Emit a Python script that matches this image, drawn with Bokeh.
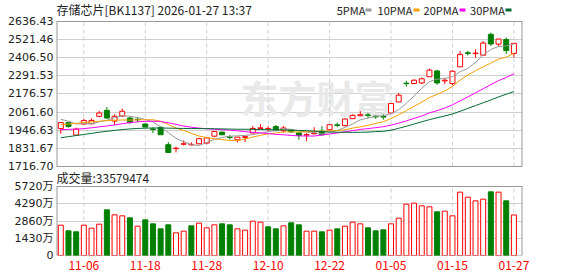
from bokeh.plotting import figure
from bokeh.models import Range1d, FixedTicker, ColumnDataSource
from bokeh.core.properties import value
from bokeh.embed import file_html
from bokeh.resources import INLINE

# ---------------- data ----------------
dates = ["11-03", "11-04", "11-05", "11-06", "11-07", "11-10", "11-11", "11-12", "11-13", "11-14",
         "11-17", "11-18", "11-19", "11-20", "11-21", "11-24", "11-25", "11-26", "11-27", "11-28",
         "12-01", "12-02", "12-03", "12-04", "12-05", "12-08", "12-09", "12-10", "12-11", "12-12",
         "12-15", "12-16", "12-17", "12-18", "12-19", "12-22", "12-23", "12-24", "12-25", "12-26",
         "12-29", "12-30", "12-31", "01-05", "01-06", "01-07", "01-08", "01-09", "01-12", "01-13",
         "01-14", "01-15", "01-16", "01-19", "01-20", "01-21", "01-22", "01-23", "01-26", "01-27"]

opens = [1957, 1995, 1916, 1986, 1988, 2035, 2073, 2005, 2037, 2024,
         2016, 1986, 1955, 1965, 1855, 1830, 1858, 1854, 1861, 1865,
         1909, 1935, 1904, 1886, 1901, 1929, 1958, 1955, 1970, 1944,
         1948, 1930, 1916, 1924, 1940, 1950, 1981, 1976, 2020, 2039,
         2044, 2036, 2034, 2056, 2126, 2245, 2243, 2247, 2286, 2323,
         2260, 2243, 2349, 2438, 2433, 2423, 2555, 2493, 2522, 2434]
highs = [1997, 2000, 1963, 2020, 2022, 2069, 2094, 2048, 2084, 2030,
         2027, 1990, 1965, 1971, 1871, 1842, 1882, 1870, 1899, 1899,
         1942, 1937, 1916, 1905, 1907, 1973, 1985, 1973, 1980, 1973,
         1955, 1932, 1928, 1966, 1972, 1985, 1995, 2022, 2048, 2067,
         2056, 2041, 2048, 2120, 2183, 2261, 2270, 2281, 2338, 2330,
         2279, 2328, 2449, 2451, 2459, 2512, 2566, 2527, 2535, 2500]
lows = [1925, 1963, 1914, 1982, 1985, 2029, 2020, 1980, 2030, 1988,
        1996, 1967, 1929, 1918, 1804, 1806, 1850, 1850, 1858, 1858,
        1903, 1916, 1889, 1870, 1872, 1929, 1958, 1938, 1941, 1932,
        1930, 1886, 1878, 1922, 1914, 1946, 1966, 1972, 2018, 2039,
        2024, 2020, 2014, 2054, 2124, 2223, 2240, 2239, 2284, 2235,
        2239, 2232, 2347, 2420, 2407, 2420, 2482, 2480, 2430, 2409]
closes = [1995, 1971, 1954, 2008, 2009, 2056, 2024, 2035, 2067, 1995,
          2013, 1967, 1951, 1918, 1806, 1833, 1861, 1857, 1893, 1898,
          1939, 1918, 1900, 1903, 1906, 1958, 1962, 1957, 1944, 1961,
          1937, 1914, 1919, 1928, 1918, 1982, 1977, 2018, 2041, 2045,
          2041, 2031, 2030, 2116, 2169, 2242, 2264, 2273, 2328, 2247,
          2264, 2321, 2428, 2434, 2436, 2500, 2494, 2525, 2452, 2498]

ma5 = [2016, 2004, 1986, 1988, 1987, 2000, 2010, 2026, 2038, 2035,
       2027, 2015, 1999, 1969, 1931, 1895, 1874, 1855, 1850, 1869,
       1889, 1901, 1909, 1911, 1914, 1919, 1928, 1937, 1946, 1957,
       1952, 1943, 1935, 1932, 1923, 1932, 1945, 1965, 1987, 2013,
       2024, 2035, 2038, 2052, 2077, 2118, 2164, 2213, 2255, 2271,
       2275, 2287, 2318, 2339, 2377, 2424, 2459, 2478, 2482, 2494]
ma10 = [1982, 1986, 1990, 1996, 2000, 2004, 2008, 2010, 2012, 2011,
        2013, 2013, 2013, 2004, 1983, 1961, 1945, 1927, 1910, 1900,
        1892, 1887, 1882, 1881, 1891, 1904, 1914, 1924, 1929, 1936,
        1936, 1935, 1937, 1939, 1940, 1942, 1944, 1950, 1960, 1968,
        1978, 1990, 2001, 2020, 2045, 2071, 2099, 2125, 2154, 2174,
        2196, 2225, 2265, 2297, 2324, 2349, 2373, 2398, 2410, 2435]
ma20 = [1950, 1952, 1954, 1957, 1962, 1968, 1974, 1980, 1988, 1995,
        2000, 2003, 2004, 2002, 1994, 1984, 1973, 1966, 1960, 1956,
        1953, 1950, 1948, 1943, 1938, 1933, 1930, 1926, 1920, 1918,
        1914, 1911, 1910, 1910, 1916, 1923, 1929, 1937, 1944, 1952,
        1957, 1963, 1969, 1979, 1992, 2006, 2022, 2037, 2057, 2071,
        2087, 2108, 2133, 2158, 2184, 2210, 2236, 2261, 2282, 2305]
ma30 = [1899, 1906, 1913, 1920, 1927, 1934, 1940, 1946, 1951, 1955,
        1958, 1960, 1961, 1961, 1960, 1959, 1958, 1958, 1957, 1957,
        1956, 1955, 1954, 1953, 1953, 1952, 1951, 1950, 1950, 1949,
        1947, 1945, 1944, 1941, 1938, 1936, 1934, 1934, 1933, 1934,
        1935, 1938, 1940, 1947, 1959, 1972, 1986, 2000, 2014, 2026,
        2037, 2050, 2067, 2085, 2103, 2121, 2139, 2158, 2175, 2192]

# volume in 万 (10k)
volumes = [2515, 2045, 1962, 2515, 2266, 2597, 3785, 3371, 3288, 3122,
           2431, 2956, 2625, 2210, 2542, 1879, 2017, 2459, 2680, 2293,
           2542, 2625, 2542, 2210, 2100, 2846, 2763, 2376, 2210, 2459,
           2708, 2542, 2017, 2017, 1962, 2100, 2210, 2431, 2763, 2625,
           2293, 2045, 2128, 2625, 3095, 4255, 4338, 4117, 4034, 3620,
           3675, 3288, 5250, 4835, 4531, 4670, 5277, 5250, 4531, 3358]
# 1 = red (up vs previous close), 0 = green
vol_up = [1, 0, 0, 1, 1, 1, 0, 1, 1, 0,
          1, 0, 0, 0, 0, 1, 1, 0, 1, 1,
          1, 0, 0, 1, 1, 1, 1, 0, 0, 1,
          0, 0, 1, 1, 0, 1, 0, 1, 1, 1,
          0, 0, 0, 1, 1, 1, 1, 1, 1, 0,
          1, 1, 1, 1, 1, 1, 0, 1, 0, 1]

price_ticks = [1716.70, 1831.67, 1946.63, 2061.60, 2176.57, 2291.53, 2406.50, 2521.46, 2636.43]
price_tick_labels = ["1716.70", "1831.67", "1946.63", "2061.60", "2176.57",
                     "2291.53", "2406.50", "2521.46", "2636.43"]
vol_ticks = [0, 1430, 2860, 4290, 5720]
vol_tick_labels = ["0", "1430万", "2860万", "4290万", "5720万"]
date_tick_idx = [3, 11, 19, 27, 35, 43, 51, 59]

title_text = "存储芯片[BK1137] 2026-01-27 13:37"
vol_title = "成交量:33579474"
legend_names = ["5PMA", "10PMA", "20PMA", "30PMA"]
watermark = "东方财富"

# ---------------- styles / layout ----------------
RED = "#ff0000"
GREEN = "#008000"
MA_COLORS = ["#999999", "#f5a000", "#ff00ff", "#006b33"]
GRID = "#d0d0d0"
FRAME = "#999999"
TXT = "#222222"
CJK = "Noto Sans CJK SC"
NUM = "DejaVu Sans"

W, H = 578, 276
FL, FR = 56, 522              # panel left / right (px)
FB = 255                      # bottom of the plotting frame (px)
X0, X1 = -0.56, 60.12         # index range
P_LO, P_HI = price_ticks[0], price_ticks[-1]
V_HI = vol_ticks[-1]
P_TOP_PX, P_BOT_PX = 21, 166  # price panel (px)
V_TOP_PX, V_BOT_PX = 186, 255 # volume panel (px)

pk = (P_HI - P_LO) / (P_BOT_PX - P_TOP_PX)   # price per px
vk = V_HI / (V_BOT_PX - V_TOP_PX)            # volume per px


def xd(px):
    return X0 + (px - FL) * (X1 - X0) / (FR - FL)


def yd1(py):  # canvas px -> price scale
    return P_HI - (py - P_TOP_PX) * pk


def yd2(py):  # canvas px -> volume scale
    return (V_BOT_PX - py) * vk


n = len(closes)
xs = list(range(n))

p = figure(width=W, height=H, x_range=Range1d(X0, X1), y_range=Range1d(yd1(FB), yd1(0)),
           output_backend="svg", toolbar_location=None, title=None,
           min_border_left=FL, min_border_right=W - FR,
           min_border_top=0, min_border_bottom=H - FB)
p.extra_y_ranges = {"vol": Range1d(yd2(FB), yd2(0))}
p.background_fill_color = "white"
p.border_fill_color = "white"
p.outline_line_color = None


def style_axis(ax, font, size, color, standoff):
    ax.major_tick_in = 0
    ax.major_tick_out = 0
    ax.minor_tick_in = 0
    ax.minor_tick_out = 0
    ax.axis_line_color = None
    ax.major_label_standoff = standoff
    ax.major_label_text_font = font
    ax.major_label_text_font_size = size
    ax.major_label_text_color = color


# y axis: price ticks + volume ticks (volume ticks placed through the volume scale)
vol_tick_pos = [yd1(V_BOT_PX - t / vk) for t in vol_ticks]
ya = p.yaxis[0]
ya.ticker = FixedTicker(ticks=price_ticks + vol_tick_pos)
overrides = {t: s for t, s in zip(price_ticks, price_tick_labels)}
overrides.update({t: s for t, s in zip(vol_tick_pos, vol_tick_labels)})
ya.major_label_overrides = overrides
style_axis(ya, NUM + ", " + CJK, "11px", TXT, 3)
p.ygrid.grid_line_color = GRID

xa = p.xaxis[0]
xa.ticker = FixedTicker(ticks=date_tick_idx)
xa.major_label_overrides = {i: dates[i] for i in date_tick_idx}
style_axis(xa, CJK, "12px", RED, 5)
p.xgrid.visible = False

# watermark
p.text(x=[xd(240)], y=[yd1(96)], text=[watermark], text_font=value(CJK),
       text_font_size="38px", text_font_style="bold", text_color="#e9e9e9",
       text_baseline="middle", text_align="left")


def panel_frame(ylo, yhi, rng):
    kw = {} if rng is None else {"y_range_name": rng}
    p.segment(x0=date_tick_idx, y0=[ylo] * len(date_tick_idx), x1=date_tick_idx,
              y1=[yhi] * len(date_tick_idx), line_color=GRID, line_width=1, line_dash="4 3", **kw)
    p.segment(x0=[X0, X1, X0, X0], y0=[ylo, ylo, ylo, yhi], x1=[X0, X1, X1, X1],
              y1=[yhi, yhi, ylo, yhi], line_color=FRAME, line_width=[2, 2, 1, 1], **kw)


panel_frame(P_LO, P_HI, None)
panel_frame(0, V_HI, "vol")

# candles
up_src = dict(x=[], top=[], bot=[], hi=[], lo=[])
dn_src = dict(x=[], top=[], bot=[], hi=[], lo=[])
for i in range(n):
    o, h, l, c = opens[i], highs[i], lows[i], closes[i]
    d = up_src if c >= o else dn_src
    d["x"].append(i)
    d["top"].append(max(o, c))
    d["bot"].append(min(o, c))
    d["hi"].append(h)
    d["lo"].append(l)

for d, fill, col in [(up_src, "white", RED), (dn_src, GREEN, GREEN)]:
    s = ColumnDataSource(d)
    p.segment(x0="x", y0="hi", x1="x", y1="top", source=s, line_color=col, line_width=1)
    p.segment(x0="x", y0="bot", x1="x", y1="lo", source=s, line_color=col, line_width=1)
    p.vbar(x="x", top="top", bottom="bot", width=0.65, source=s,
           fill_color=fill, line_color=col, line_width=1)

for ma, col in zip([ma5, ma10, ma20, ma30], MA_COLORS):
    p.line(xs, ma, line_color=col, line_width=1)

# volume bars
vu = dict(x=[i for i in range(n) if vol_up[i]], v=[volumes[i] for i in range(n) if vol_up[i]])
vd = dict(x=[i for i in range(n) if not vol_up[i]], v=[volumes[i] for i in range(n) if not vol_up[i]])
p.vbar(x="x", top="v", bottom=0, width=0.65, source=ColumnDataSource(vu),
       fill_color="white", line_color=RED, line_width=1, y_range_name="vol")
p.vbar(x="x", top="v", bottom=0, width=0.65, source=ColumnDataSource(vd),
       fill_color=GREEN, line_color=GREEN, line_width=1, y_range_name="vol")

# title, legend, volume caption
p.text(x=[xd(56)], y=[yd1(9)], text=[title_text], text_font=value(CJK),
       text_font_size="12px", text_color=TXT, text_baseline="middle", text_align="left")
leg_text_px = [350.5, 394.5, 440.5, 487]
leg_dash_px = [365, 413, 459, 505]
p.text(x=[xd(v) for v in leg_text_px], y=[yd1(9)] * 4, text=legend_names,
       text_font=value(CJK), text_font_size="11px", text_color=TXT,
       text_baseline="middle", text_align="center")
p.segment(x0=[xd(v) for v in leg_dash_px], y0=[yd1(9.5)] * 4,
          x1=[xd(v + 6) for v in leg_dash_px], y1=[yd1(9.5)] * 4,
          line_color=MA_COLORS, line_width=3)
p.text(x=[xd(56)], y=[yd2(177)], text=[vol_title], text_font=value(CJK),
       text_font_size="12px", text_color=TXT, text_baseline="middle", text_align="left",
       y_range_name="vol")

open("out.html", "w").write(file_html(p, INLINE))
